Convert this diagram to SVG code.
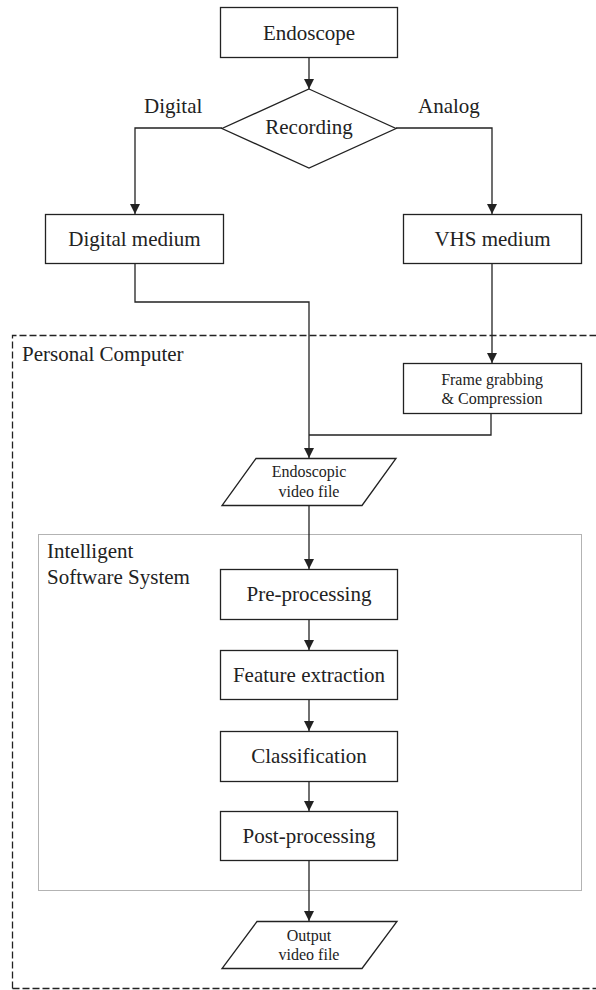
<svg xmlns="http://www.w3.org/2000/svg" width="596" height="990" viewBox="0 0 596 990">
<style>
.box{fill:#fff;stroke:#222;stroke-width:1.3}
.t{font-family:"Liberation Serif","Times New Roman",serif;font-size:21px;fill:#222;text-anchor:middle}
.s{font-family:"Liberation Serif","Times New Roman",serif;font-size:16px;fill:#222;text-anchor:middle}
.l{font-family:"Liberation Serif","Times New Roman",serif;font-size:21px;fill:#222}
.c{fill:none;stroke:#222;stroke-width:1.3}
</style>
<defs>
<marker id="ah" viewBox="0 0 10 10" refX="10" refY="5" markerWidth="10" markerHeight="10" markerUnits="userSpaceOnUse" orient="auto">
<path d="M0,0 L10,5 L0,10 Z" fill="#222"/>
</marker>
</defs>
<rect width="596" height="990" fill="#fff"/>
<g id="personal-computer">
<path d="M12.5,988.5 L12.5,335.5 L600,335.5 M12.5,988.5 L600,988.5" fill="none" stroke="#222" stroke-width="1.3" stroke-dasharray="7 3"/>
<text class="l" x="22" y="361">Personal Computer</text>
</g>
<g id="intelligent-software-system">
<rect x="38.5" y="534.5" width="543" height="356" fill="none" stroke="#666" stroke-width="1" stroke-dasharray="1 1"/>
<text class="l" x="47" y="558">Intelligent</text>
<text class="l" x="47" y="584">Software System</text>
</g>
<g id="connectors">
<path class="c" d="M309,57 L309,89" marker-end="url(#ah)"/>
<path class="c" d="M222,128 L135,128 L135,214" marker-end="url(#ah)"/>
<path class="c" d="M396,128 L492,128 L492,214" marker-end="url(#ah)"/>
<path class="c" d="M135,263 L135,302 L309,302 L309,458" marker-end="url(#ah)"/>
<path class="c" d="M492,263 L492,363" marker-end="url(#ah)"/>
<path class="c" d="M491,413 L491,435 L309,435"/>
<path class="c" d="M309,505 L309,569" marker-end="url(#ah)"/>
<path class="c" d="M309,619 L309,650" marker-end="url(#ah)"/>
<path class="c" d="M309,699 L309,731" marker-end="url(#ah)"/>
<path class="c" d="M309,781 L309,811" marker-end="url(#ah)"/>
<path class="c" d="M309,860 L309,921" marker-end="url(#ah)"/>
<text class="l" x="144" y="113">Digital</text>
<text class="l" x="418" y="113">Analog</text>
</g>
<g id="endoscope">
<rect class="box" x="220.5" y="7.5" width="177" height="50"/>
<text class="t" x="309" y="40">Endoscope</text>
</g>
<g id="recording">
<path class="box" d="M309,89 L396,128.5 L309,168 L222,128.5 Z"/>
<text class="t" x="309" y="134">Recording</text>
</g>
<g id="digital-medium">
<rect class="box" x="45.5" y="214.5" width="178" height="49"/>
<text class="t" x="134.5" y="246">Digital medium</text>
</g>
<g id="vhs-medium">
<rect class="box" x="403.5" y="214.5" width="178" height="49"/>
<text class="t" x="492.5" y="246">VHS medium</text>
</g>
<g id="frame-grabbing">
<rect class="box" x="403.5" y="363.5" width="178" height="50"/>
<text class="s" x="492" y="385">Frame grabbing</text>
<text class="s" x="492" y="404">&amp; Compression</text>
</g>
<g id="endoscopic-video-file">
<path class="box" d="M256,458.5 L396,458.5 L362,505.5 L222,505.5 Z"/>
<text class="s" x="309" y="477">Endoscopic</text>
<text class="s" x="309" y="497">video file</text>
</g>
<g id="pre-processing">
<rect class="box" x="220.5" y="569.5" width="177" height="50"/>
<text class="t" x="309" y="601">Pre-processing</text>
</g>
<g id="feature-extraction">
<rect class="box" x="220.5" y="650.5" width="177" height="49"/>
<text class="t" x="309" y="682">Feature extraction</text>
</g>
<g id="classification">
<rect class="box" x="220.5" y="731.5" width="177" height="50"/>
<text class="t" x="309" y="763">Classification</text>
</g>
<g id="post-processing">
<rect class="box" x="220.5" y="811.5" width="177" height="49"/>
<text class="t" x="309" y="843">Post-processing</text>
</g>
<g id="output-video-file">
<path class="box" d="M257,921.5 L397,921.5 L362,968.5 L222,968.5 Z"/>
<text class="s" x="309" y="941">Output</text>
<text class="s" x="309" y="960">video file</text>
</g>
</svg>
